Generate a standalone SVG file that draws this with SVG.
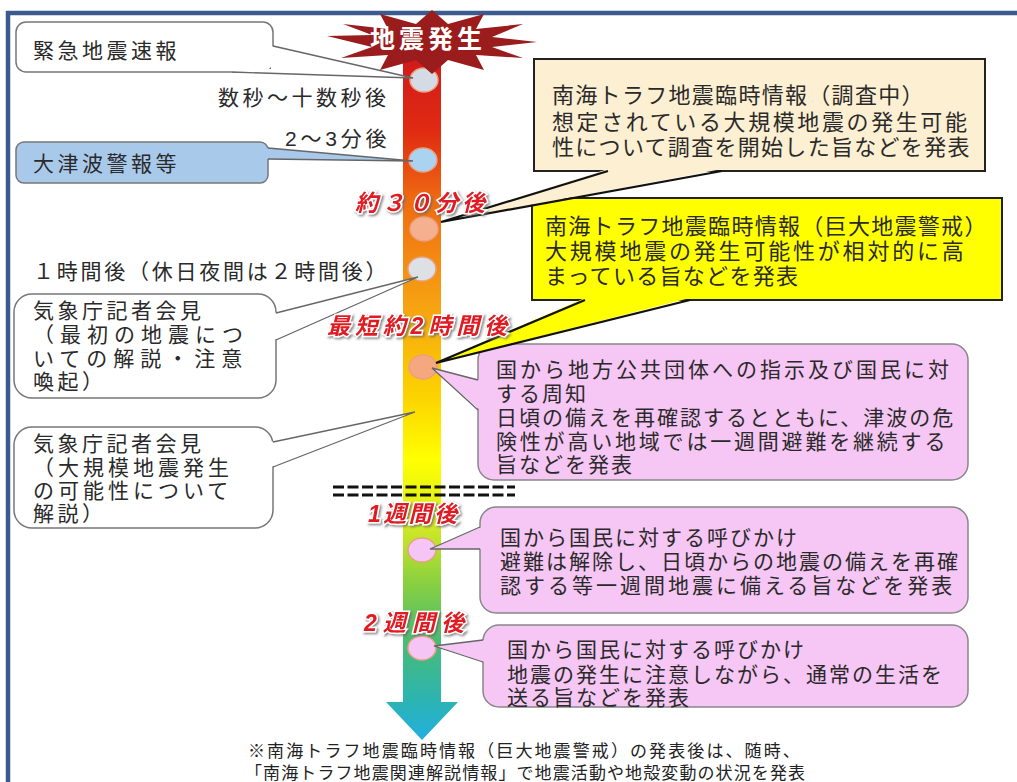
<svg xmlns="http://www.w3.org/2000/svg" width="1017" height="782" viewBox="0 0 1017 782">
<defs>
<linearGradient id="barGrad" x1="0" y1="55" x2="0" y2="740" gradientUnits="userSpaceOnUse">
<stop offset="0" stop-color="#d01a1a"/>
<stop offset="0.11" stop-color="#e02a12"/>
<stop offset="0.21" stop-color="#ef6a12"/>
<stop offset="0.36" stop-color="#f6a012"/>
<stop offset="0.50" stop-color="#fcd400"/>
<stop offset="0.59" stop-color="#ffff00"/>
<stop offset="0.68" stop-color="#d8ec20"/>
<stop offset="0.77" stop-color="#8ad040"/>
<stop offset="0.85" stop-color="#4cbc70"/>
<stop offset="0.94" stop-color="#2cb4b0"/>
<stop offset="1" stop-color="#22aee0"/>
</linearGradient>
<filter id="shadow" x="-10%" y="-30%" width="130%" height="170%">
<feDropShadow dx="1.5" dy="1.5" stdDeviation="1" flood-color="#666" flood-opacity="0.8"/>
</filter>
<style>
.jp{font-family:"Liberation Sans","Noto Sans CJK JP","Noto Sans CJK SC",sans-serif;fill:#2a2a2a}
.l21{font-size:21px;letter-spacing:3.5px}
.r22{font-size:22px;letter-spacing:1.3px}
.p21{font-size:21px;letter-spacing:2px}
.foot{font-size:17px;letter-spacing:1.8px;fill:#222}
.lbl{font-family:"Liberation Sans","Noto Sans CJK JP",sans-serif;font-size:23px;font-style:italic;font-weight:bold;fill:#e01c24;stroke:#fff;stroke-width:3;paint-order:stroke;filter:url(#shadow)}
.boxW{fill:#fff;stroke:#777;stroke-width:1.5}
.boxB{fill:#a9c9ea;stroke:#777;stroke-width:1.5}
.beige{fill:#fcefd2;stroke:#222;stroke-width:2}
.yel{fill:#ffff00;stroke:#222;stroke-width:2}
.pink{fill:#f6c6f4;stroke:#888;stroke-width:1.5}
.tline{fill:none;stroke:#666;stroke-width:1.3}
.tlineK{fill:none;stroke:#111;stroke-width:2.2}
.circ{stroke:#e9a080;stroke-width:1.5}
</style>
</defs>

<rect x="0" y="0" width="1017" height="782" fill="#fff"/>
<g id="frame" stroke="#3b5b8f" stroke-width="4.5" fill="none">
<line x1="6" y1="13" x2="1017" y2="13"/>
<line x1="8" y1="11" x2="8" y2="782"/>
</g>

<g id="timeline">
<polygon points="403,55 441,55 441,702 458,702 422,740 386,702 403,702" fill="url(#barGrad)"/>
</g>

<g id="markers">
<ellipse id="c1" cx="424" cy="80" rx="14" ry="12" fill="#d5dbe5" class="circ" stroke="#f06050"/>
<ellipse id="c2" cx="423" cy="160" rx="14" ry="12" fill="#a9d3f0" class="circ"/>
<ellipse id="c3" cx="424" cy="229" rx="14" ry="12" fill="#f5b090" class="circ"/>
<ellipse id="c4" cx="422" cy="269" rx="14" ry="12" fill="#dde0e5" class="circ" stroke="#d8c060"/>
<ellipse id="c5" cx="423" cy="367" rx="14" ry="12" fill="#f5a880" class="circ"/>
<ellipse id="c6" cx="422" cy="550" rx="14" ry="12" fill="#f5c6f5" class="circ"/>
<ellipse id="c7" cx="422" cy="648" rx="14" ry="12" fill="#f5c6f5" class="circ"/>
</g>

<g id="box-eew">
<rect x="16" y="22" width="257" height="50" rx="10" class="boxW"/>
<text x="33" y="58" class="jp l21">緊急地震速報</text>
</g>
<g id="box-tsunami">
<rect x="16" y="142" width="252" height="41" rx="8" class="boxB"/>
<text x="33" y="171" class="jp l21">大津波警報等</text>
</g>
<g id="box-jma1">
<rect x="14" y="294" width="262" height="104" rx="18" class="boxW"/>
<text class="jp l21"><tspan x="33" y="318">気象庁記者会見</tspan><tspan x="33" y="342" letter-spacing="6">（最初の地震につ</tspan><tspan x="33" y="366" letter-spacing="6">いての解説・注意</tspan><tspan x="33" y="389">喚起）</tspan></text>
</g>
<g id="box-jma2">
<rect x="14" y="427" width="259" height="101" rx="18" class="boxW"/>
<text class="jp l21"><tspan x="33" y="451">気象庁記者会見</tspan><tspan x="33" y="475" letter-spacing="4">（大規模地震発生</tspan><tspan x="33" y="498" letter-spacing="4">の可能性について</tspan><tspan x="33" y="521">解説）</tspan></text>
</g>

<g id="box-survey">
<rect x="534" y="59" width="451" height="112" class="beige"/>
<text class="jp r22"><tspan x="552" y="103">南海トラフ地震臨時情報（調査中）</tspan><tspan x="552" y="130" letter-spacing="2.6">想定されている大規模地震の発生可能</tspan><tspan x="552" y="155">性について調査を開始した旨などを発表</tspan></text>
</g>
<g id="box-warning">
<rect x="532" y="198" width="470" height="102" class="yel"/>
<text class="jp r22"><tspan x="545" y="234">南海トラフ地震臨時情報（巨大地震警戒）</tspan><tspan x="545" y="259" letter-spacing="2.8">大規模地震の発生可能性が相対的に高</tspan><tspan x="545" y="284">まっている旨などを発表</tspan></text>
</g>
<g id="box-notice">
<rect x="478" y="344" width="490" height="136" rx="16" class="pink"/>
<text class="jp p21"><tspan x="496" y="377" letter-spacing="3">国から地方公共団体への指示及び国民に対</tspan><tspan x="496" y="401">する周知</tspan><tspan x="496" y="425">日頃の備えを再確認するとともに、津波の危</tspan><tspan x="496" y="449" letter-spacing="2.8">険性が高い地域では一週間避難を継続する</tspan><tspan x="496" y="472">旨などを発表</tspan></text>
</g>
<g id="box-week1">
<rect x="480" y="507" width="488" height="106" rx="16" class="pink"/>
<text class="jp p21"><tspan x="500" y="545">国から国民に対する呼びかけ</tspan><tspan x="500" y="569">避難は解除し、日頃からの地震の備えを再確</tspan><tspan x="500" y="593" letter-spacing="3">認する等一週間地震に備える旨などを発表</tspan></text>
</g>
<g id="box-week2">
<rect x="483" y="625" width="485" height="82" rx="16" class="pink"/>
<text class="jp p21"><tspan x="507" y="657">国から国民に対する呼びかけ</tspan><tspan x="507" y="682">地震の発生に注意しながら、通常の生活を</tspan><tspan x="507" y="705">送る旨などを発表</tspan></text>
</g>

<g id="connectors">
<polygon points="271,46 413,78 232,72 232,69 271,69" fill="#fff"/>
<polyline points="273,46 413,78 232,72" class="tline"/>
<polygon points="266,148 413,161 266,159" fill="#a9c9ea"/>
<polyline points="268,148 413,161 268,159" class="tline"/>
<polygon points="274,313 418,277 274,340" fill="#fff"/>
<polyline points="276,313 418,277 276,340" class="tline"/>
<polygon points="271,442 415,412 271,467" fill="#fff"/>
<polyline points="273,442 415,412 273,467" class="tline"/>
<polygon points="608,169 441,222 722,169" fill="#fcefd2"/>
<polyline points="608,171 441,222 722,171" class="tlineK"/>
<polygon points="585,298 436,363 690,298" fill="#ffff00"/>
<polyline points="585,300 436,363 690,300" class="tlineK"/>
<polygon points="480,380 432,368 480,410" fill="#f6c6f4"/>
<polyline points="478,380 432,368 478,410" class="tline"/>
<polygon points="482,527 430,549 482,549" fill="#f6c6f4"/>
<polyline points="480,527 430,549 480,549" class="tline"/>
<polygon points="485,640 434,646 485,662" fill="#f6c6f4"/>
<polyline points="483,640 434,646 483,662" class="tline"/>
</g>

<g id="time-labels">
<text x="218" y="105" class="jp l21">数秒～十数秒後</text>
<text x="285" y="146" class="jp l21" textLength="105" lengthAdjust="spacing">2～3分後</text>
<text x="33" y="279" class="jp l21" textLength="357" lengthAdjust="spacing">１時間後（休日夜間は２時間後）</text>
<text x="355" y="211" class="lbl" textLength="130" lengthAdjust="spacing">約３０分後</text>
<text x="327" y="334" class="lbl" textLength="180" lengthAdjust="spacing">最短約2時間後</text>
<text x="368" y="522" class="lbl" textLength="89" lengthAdjust="spacing">1週間後</text>
<text x="364" y="631" class="lbl" textLength="100" lengthAdjust="spacing">2週間後</text>
</g>

<g id="divider" stroke="#111" stroke-width="3.2" stroke-dasharray="11 3.5">
<line x1="333" y1="487" x2="515" y2="487"/>
<line x1="333" y1="495" x2="515" y2="495"/>
</g>

<g id="quake">
<polygon points="537,42 492,47 523,58 476,55 484,70 448,60 432,74 416,60 380,70 388,55 341,58 372,47 327,36 372,35 343,24 388,29 380,14 416,24 432,10 448,24 484,14 476,29 523,24 492,37" fill="#9a1c1c"/>
<text x="428" y="48" text-anchor="middle" font-family="Liberation Sans, Noto Sans CJK JP, sans-serif" font-size="25" font-weight="bold" letter-spacing="4" fill="#fff">地震発生</text>
</g>

<g id="footnote">
<text class="jp foot"><tspan x="248" y="757" letter-spacing="2.1">※南海トラフ地震臨時情報（巨大地震警戒）の発表後は、随時、</tspan><tspan x="245" y="779" letter-spacing="1.1">「南海トラフ地震関連解説情報」で地震活動や地殻変動の状況を発表</tspan></text>
</g>
</svg>
